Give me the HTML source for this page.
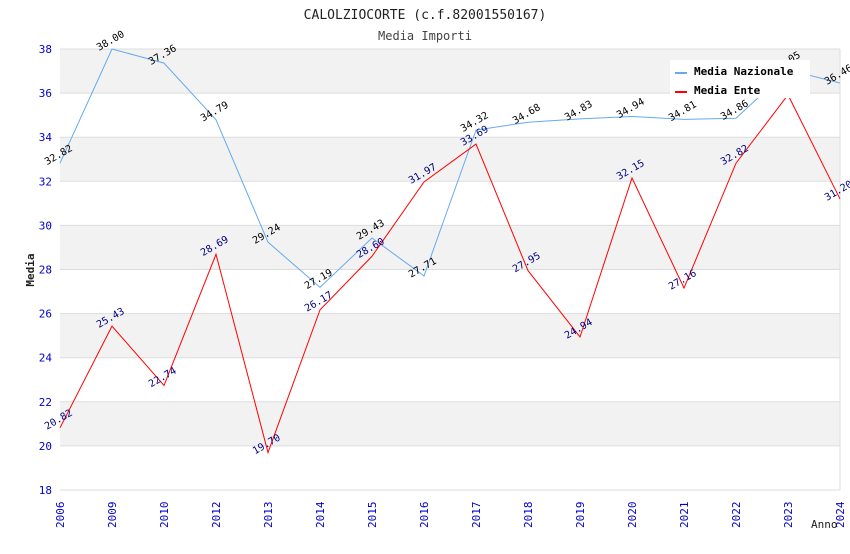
<!DOCTYPE html>
<html><head><meta charset="utf-8"><style>
body{margin:0;background:#fff;font-family:"DejaVu Sans Mono","Liberation Mono",monospace;}
svg text{font-family:"DejaVu Sans Mono","Liberation Mono",monospace;}
</style></head><body>
<svg id="chart" width="850" height="550" xmlns="http://www.w3.org/2000/svg">
<text x="425" y="19" text-anchor="middle" font-size="13" fill="#222">CALOLZIOCORTE (c.f.82001550167)</text>
<text x="425" y="40" text-anchor="middle" font-size="12" fill="#444">Media Importi</text>
<g id="bands"></g><g id="grid"></g><g id="axes"></g><g id="series"></g><g id="labels"></g>
<text transform="translate(34,270) rotate(-90)" text-anchor="middle" font-size="11" font-weight="bold" fill="#222">Media</text>
<text x="811" y="528" font-size="11" fill="#222">Anno</text>
<g>
<rect x="670" y="60" width="140" height="38" fill="#fff"/>
<line x1="675" y1="73" x2="687" y2="73" stroke="#66aaee" stroke-width="2"/>
<text x="694" y="75" font-size="11" font-weight="bold" fill="#000">Media Nazionale</text>
<line x1="675" y1="92" x2="687" y2="92" stroke="#ff0000" stroke-width="2"/>
<text x="694" y="94" font-size="11" font-weight="bold" fill="#000">Media Ente</text>
</g>
</svg>
<script>
const categories=["2006","2009","2010","2012","2013","2014","2015","2016","2017","2018","2019","2020","2021","2022","2023","2024"];
const nazionale=[32.82,38.00,37.36,34.79,29.24,27.19,29.43,27.71,34.32,34.68,34.83,34.94,34.81,34.86,37.05,36.46];
const ente=[20.82,25.43,22.74,28.69,19.70,26.17,28.60,31.97,33.69,27.95,24.94,32.15,27.16,32.82,35.92,31.20];
const yTicks=[18,20,22,24,26,28,30,32,34,36,38];
const X0=60,X1=840,Y0=490,Y1=49,ymin=18,ymax=38;
const xs=i=>X0+i*(X1-X0)/(categories.length-1);
const ys=v=>Y0-(v-ymin)/(ymax-ymin)*(Y0-Y1);
const NS="http://www.w3.org/2000/svg";
function mk(tag,attrs,parent){const e=document.createElementNS(NS,tag);for(const k in attrs)e.setAttribute(k,attrs[k]);document.getElementById(parent).appendChild(e);return e;}
for(let t=20;t<38;t+=4){const b=mk('rect',{x:X0,y:ys(t+2),width:X1-X0,height:ys(t)-ys(t+2),fill:'#f2f2f2'},'bands');

}
yTicks.forEach(t=>{const l=mk('line',{x1:X0,x2:X1,y1:ys(t),y2:ys(t),stroke:'#dddddd'},'grid');


const tx=mk('text',{x:X0-8,y:ys(t)+4,'text-anchor':'end','font-size':'11',fill:'#0000cc'},'axes');tx.textContent=t;

});
const vb=mk('line',{x1:X1,x2:X1,y1:Y1,y2:Y0,stroke:'#dddddd'},'grid');


categories.forEach((c,i)=>{const tx=mk('text',{transform:`translate(${xs(i)+4},${Y0+38}) rotate(-90)`,'font-size':'11',fill:'#0000cc'},'axes');tx.textContent=c;

});
function series(vals,color,lblColor,name,hide){
const p=mk('polyline',{points:vals.map((v,i)=>xs(i)+','+ys(v)).join(' '),fill:'none',stroke:color,'stroke-width':1},'series');


vals.forEach((v,i)=>{if(hide&&hide.includes(i))return;
const t=mk('text',{transform:`translate(${xs(i)-13},${ys(v)+2}) rotate(-30)`,'font-size':'10',fill:lblColor},'labels');t.textContent=v.toFixed(2);

});}
series(nazionale,'#66aaee','#000','nazionale-line');
series(ente,'#ff0000','#000080','ente-line',[14]);
</script>
</body></html>
